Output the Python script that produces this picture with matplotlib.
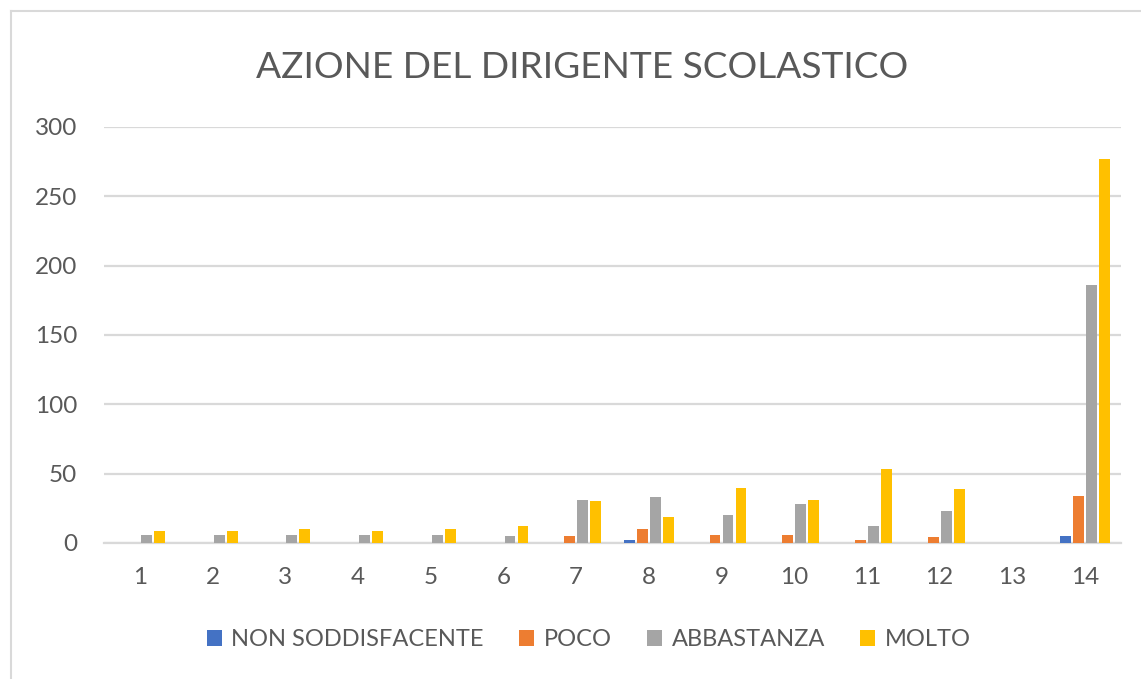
import numpy as np
import matplotlib
matplotlib.use('Agg')
from matplotlib import pyplot as plt
from matplotlib.lines import Line2D

# survey answers per question, one list per rating
questions = [str(i) for i in range(1, 15)]
non_soddisfacente = [0, 0, 0, 0, 0, 0, 0, 2, 0, 0, 0, 0, 0, 5]
poco = [0, 0, 0, 0, 0, 0, 5, 10, 6, 6, 2, 4, 0, 34]
abbastanza = [6, 6, 6, 6, 6, 5, 31, 33, 20, 28, 12, 23, 0, 186]
molto = [9, 9, 10, 9, 10, 12, 30, 19, 40, 31, 53, 39, 0, 277]

series = [
    ('NON SODDISFACENTE', non_soddisfacente, '#4472C4'),
    ('POCO', poco, '#ED7D31'),
    ('ABBASTANZA', abbastanza, '#A5A5A5'),
    ('MOLTO', molto, '#FFC000'),
]

plt.rcParams['font.family'] = ['Lato', 'DejaVu Sans']
text_color = '#595959'
grid_color = '#D9D9D9'

fig = plt.figure(figsize=(11.41, 6.79), dpi=100)
ax = fig.add_axes([0.0908, 0.2003, 0.892, 0.6127])

x = np.arange(len(questions))
step = 0.179
width = 0.148
for i, (name, vals, color) in enumerate(series):
    ax.bar(x + (i - 1.5) * step, vals, width, color=color, label=name, zorder=3)

ax.set_xlim(-0.5, len(questions) - 0.5)
ax.set_ylim(0, 300)
ax.set_yticks(range(0, 301, 50))
ax.set_xticks(x)
ax.set_xticklabels(questions)
ax.grid(axis='y', color=grid_color, linewidth=1.6, zorder=0)
for side in ['top', 'right', 'left']:
    ax.spines[side].set_visible(False)
ax.spines['bottom'].set_color(grid_color)
ax.spines['bottom'].set_linewidth(1.6)
ax.tick_params(axis='both', length=0, labelsize=17.5, colors=text_color)
ax.tick_params(axis='y', pad=19)
ax.tick_params(axis='x', pad=17)

fig.text(0.51, 1 - 67 / 679, 'AZIONE DEL DIRIGENTE SCOLASTICO',
         ha='center', va='center', fontsize=26.7, color=text_color)

leg = fig.legend(loc='center', bbox_to_anchor=(0.516, 1 - 640 / 679), ncol=4,
                 frameon=False, fontsize=17, handlelength=0.64, handleheight=0.64,
                 handletextpad=0.4, columnspacing=1.5)
for t in leg.get_texts():
    t.set_color(text_color)

# chart border
fig.add_artist(Line2D([11 / 1141, 11 / 1141], [0, 1 - 11 / 679],
                      transform=fig.transFigure, color=grid_color, linewidth=1.5))
fig.add_artist(Line2D([11 / 1141, 1], [1 - 11 / 679, 1 - 11 / 679],
                      transform=fig.transFigure, color=grid_color, linewidth=1.5))

fig.savefig('out.png', dpi=100, facecolor='white')
